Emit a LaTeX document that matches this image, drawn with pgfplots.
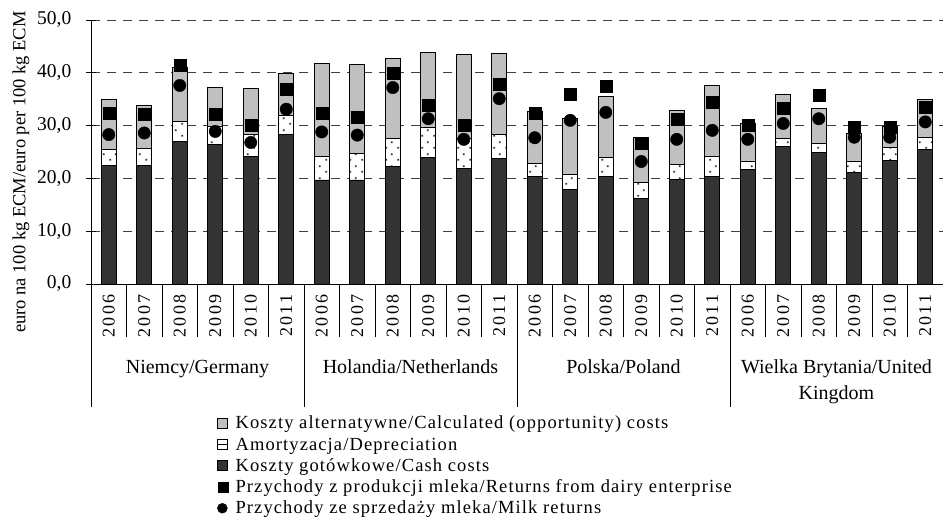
\documentclass[border=0pt]{standalone}
\usepackage{fontspec}
\setmainfont{Liberation Serif}
\newfontfamily\yearfont[LetterSpace=12]{Liberation Serif}
\newfontfamily\legfont[LetterSpace=6]{Liberation Serif}
\usepackage{pgfplots}
\usepackage{pgfplotstable}
\pgfplotsset{compat=1.18}
\usetikzlibrary{patterns.meta}
\definecolor{darkbar}{HTML}{333333}
\definecolor{lightbar}{HTML}{C0C0C0}
\tikzdeclarepattern{
  name=sparsedots,
  type=uncolored,
  bottom left={(0pt,0pt)},
  top right={(12pt,12pt)},
  tile size={(12pt,12pt)},
  code={
    \fill (1.5pt,1.5pt) rectangle (3.3pt,3.3pt);
    \fill (7.5pt,7.5pt) rectangle (9.3pt,9.3pt);
  }
}

\pgfplotstableread{
x cash dep opp ret milk
0  22.4 3.1 9.5  32.4 28.3
1  22.4 3.3 8.1  32.1 28.6
2  27.0 3.8 10.2 41.4 37.6
3  26.5 3.4 7.4  32.1 28.9
4  24.1 4.3 8.6  30.0 26.8
5  28.4 3.5 7.9  36.9 33.1
6  19.7 4.5 17.6 32.4 28.8
7  19.7 5.0 16.9 31.6 28.2
8  22.3 5.2 15.3 40.0 37.2
9  23.9 5.8 14.2 33.9 31.3
10 21.8 5.7 15.9 30.1 27.4
11 23.8 4.6 15.2 37.9 35.1
12 20.3 2.6 9.7  32.4 27.7
13 17.9 2.9 10.6 36.0 31.0
14 20.3 3.6 11.6 37.5 32.5
15 16.2 3.1 8.5  26.6 23.2
16 19.8 2.9 10.2 31.3 27.4
17 20.3 3.9 13.4 34.4 29.1
18 21.7 1.6 7.2  30.1 27.4
19 26.0 1.5 8.4  33.3 30.4
20 24.9 1.7 6.6  35.8 31.3
21 21.2 2.1 5.2  29.7 27.8
22 23.4 2.4 4.1  29.7 27.8
23 25.5 2.3 7.2  33.4 30.7
}\data

\begin{document}
\begin{tikzpicture}
\useasboundingbox (0,0) rectangle (944pt,522pt);
\pgfplotsset{
  common/.style={
    scale only axis,
    width=852pt, height=264pt,
    at={(91pt,238pt)}, anchor=south west,
    xmin=-0.5, xmax=23.5,
    ymin=0, ymax=50,
    clip=false,
  }
}
\begin{axis}[
  common,
  ybar stacked,
  bar width=15pt,
  axis x line*=bottom,
  axis y line*=left,
  axis line style={-, black, line width=0.9pt},
  ytick={0,10,...,50},
  tick align=center,
  major tick length=11pt,
  ytick style={black, line width=0.9pt},
  yticklabel style={
    /pgf/number format/fixed,
    /pgf/number format/fixed zerofill,
    /pgf/number format/precision=1,
    /pgf/number format/use comma,
    /pgf/number format/assume math mode=true,
    font=\fontsize{19.5}{20}\selectfont,
    inner sep=0pt, xshift=-14pt},
  xtick={0,...,23},
  xticklabels={2006,2007,2008,2009,2010,2011,2006,2007,2008,2009,2010,2011,2006,2007,2008,2009,2010,2011,2006,2007,2008,2009,2010,2011},
  xtick style={draw=none},
  xticklabel style={rotate=90, anchor=east, inner sep=5pt, font=\yearfont\fontsize{18}{20}\selectfont},
  ymajorgrids,
  major grid style={black!75, line width=0.8pt, dash pattern=on 9pt off 7pt},
  ylabel={euro na 100 kg ECM/euro per 100 kg ECM},
  ylabel style={at={(axis description cs:-0.0822,0.424)}, anchor=center, rotate=0, font=\fontsize{18.5}{20}\selectfont},
]
\addplot[fill=darkbar, draw=black, line width=0.8pt] table[x=x, y=cash]{\data};
\addplot[fill=white, draw=black, line width=0.8pt, postaction={pattern=sparsedots, pattern color=black!80}] table[x=x, y=dep]{\data};
\addplot[fill=lightbar, draw=black, line width=0.8pt] table[x=x, y=opp]{\data};

\pgfplotsinvokeforeach{0.5,1.5,2.5,3.5,4.5,6.5,7.5,8.5,9.5,10.5,12.5,13.5,14.5,15.5,16.5,18.5,19.5,20.5,21.5,22.5}{
  \draw[black, line width=0.8pt] (axis cs:#1,0) -- ([yshift=-53pt]axis cs:#1,0);
}
\pgfplotsinvokeforeach{-0.5,5.5,11.5,17.5}{
  \draw[black, line width=0.8pt] (axis cs:#1,0) -- ([yshift=-123pt]axis cs:#1,0);
}
\node[anchor=base, font=\fontsize{20}{24}\selectfont] at ([yshift=-89pt]axis cs:2.5,0) {Niemcy/Germany};
\node[anchor=base, font=\fontsize{20}{24}\selectfont] at ([yshift=-89pt]axis cs:8.5,0) {Holandia/Netherlands};
\node[anchor=base, font=\fontsize{20}{24}\selectfont] at ([yshift=-89pt]axis cs:14.5,0) {Polska/Poland};
\node[anchor=base, font=\fontsize{20}{24}\selectfont] at ([yshift=-89pt]axis cs:20.5,0) {Wielka Brytania/United};
\node[anchor=base, font=\fontsize{20}{24}\selectfont] at ([yshift=-115pt]axis cs:20.5,0) {Kingdom};
\end{axis}

\begin{axis}[
  common,
  hide axis,
  legend style={
    at={(axis description cs:0.1479,-0.496)}, anchor=north west,
    draw=none, fill=none, inner sep=0pt, outer sep=0pt,
    row sep=0pt, column sep=7pt,
    font=\legfont\fontsize{18.5}{20}\selectfont,
    nodes={inner sep=0pt, text height=14pt, text depth=7.2pt, anchor=base west},
  },
  legend cell align=left,
]
\addplot[only marks, mark=square*, mark size=6pt, black, forget plot] table[x=x, y=ret]{\data};
\addplot[only marks, mark=*, mark size=6.2pt, black, forget plot] table[x=x, y=milk]{\data};

\addlegendimage{legend image code/.code={\draw[fill=lightbar, line width=0.7pt] (0pt,0.5pt) rectangle (10pt,10.5pt);}}
\addlegendentry{Koszty alternatywne/Calculated (opportunity) costs}
\addlegendimage{legend image code/.code={\draw[fill=white, line width=0.7pt] (0pt,0.5pt) rectangle (10pt,10.5pt); \draw[line width=0.7pt] (0pt,5.5pt) -- (10pt,5.5pt);}}
\addlegendentry{Amortyzacja/Depreciation}
\addlegendimage{legend image code/.code={\draw[fill=darkbar, line width=0.7pt] (0pt,0.5pt) rectangle (10pt,10.5pt);}}
\addlegendentry{Koszty gotówkowe/Cash costs}
\addlegendimage{legend image code/.code={\fill[black] (1pt,0.5pt) rectangle (11pt,10.5pt);}}
\addlegendentry{Przychody z produkcji mleka/Returns from dairy enterprise}
\addlegendimage{legend image code/.code={\fill[black] (5pt,5.5pt) circle (5pt);}}
\addlegendentry{Przychody ze sprzedaży mleka/Milk returns}
\end{axis}
\end{tikzpicture}
\end{document}
